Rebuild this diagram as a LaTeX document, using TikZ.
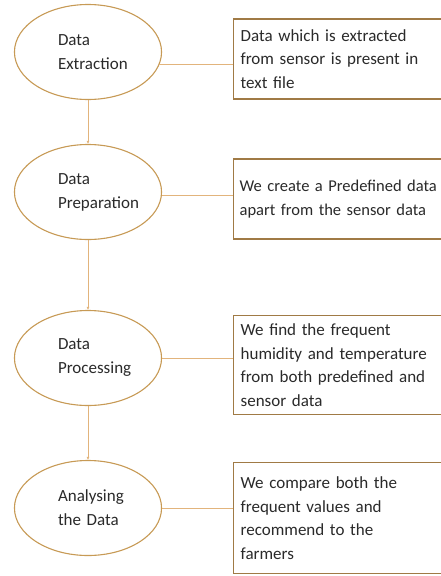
\documentclass[tikz,border=0pt]{standalone}
\usepackage{fontspec}
\setmainfont{Carlito}
\usetikzlibrary{arrows.meta,positioning,shapes.geometric}
\definecolor{Rim}{HTML}{C79A55}
\definecolor{BoxRim}{HTML}{A07A45}
\definecolor{Link}{HTML}{E2B47C}
\definecolor{Ink}{HTML}{2A2A2A}
\begin{document}
\begin{tikzpicture}[x=1pt,y=-1pt,
 phase/.style={ellipse,draw=Rim,line width=1.1pt,fill=white,minimum width=147pt,minimum height=95pt,inner sep=0pt,text width=104pt,align=left,execute at begin node={\leftskip=22pt},font=\fontsize{17}{24}\selectfont,text=Ink},
 note/.style={rectangle,draw=BoxRim,line width=1.3pt,fill=white,anchor=west,minimum width=230pt,text width=240pt,inner xsep=7pt,align=left,font=\fontsize{17}{23.5}\selectfont,text=Ink},
 flow/.style={-{Latex[length=3pt,width=3pt]},line width=0.6pt,draw=Link},
 tie/.style={line width=0.9pt,draw=Link}]
 \useasboundingbox (0,0) rectangle (441,576);
 \node[phase](extract) at (88,52){Data\\Extraction};
 \node[phase](prepare) at (88,192){Data\\Preparation};
 \node[phase](process) at (88,358){Data\\Processing};
 \node[phase](analyse) at (88,508){Analysing\\the Data};
 \node[note,minimum height=80pt](extractnote) at (233,59){Data which is extracted\\from sensor is present in\\text file};
 \node[note,minimum height=80pt,inner xsep=6pt,font=\fontsize{16.5}{23.5}\selectfont](preparenote) at (233,199){We create a Predefined data\\apart from the sensor data};
 \node[note,minimum height=99pt](processnote) at (233,365){We find the frequent\\humidity and temperature\\from both predefined and\\sensor data};
 \node[note,minimum height=111pt](analysenote) at (233,518){We compare both the\\frequent values and\\recommend to the\\farmers};
 \draw[flow](extract)--(prepare);\draw[flow](prepare)--(process);\draw[flow](process)--(analyse);
 \draw[tie](extract.-10)--(extract.-10 -| extractnote.west);
 \draw[tie](prepare.-3)--(prepare.-3 -| preparenote.west);
 \draw[tie](process.east)--(process.east -| processnote.west);
 \draw[tie](analyse.east)--(analyse.east -| analysenote.west);
\end{tikzpicture}
\end{document}
